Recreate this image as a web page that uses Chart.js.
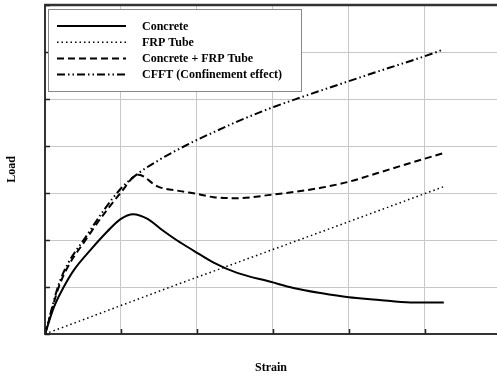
<!DOCTYPE html>
<html>
<head>
<meta charset="utf-8">
<script src="https://cdn.jsdelivr.net/npm/chart.js@4.4.1/dist/chart.umd.min.js"></script>
<style>
  html, body { margin: 0; padding: 0; background: #fff; }
</style>
</head>
<body>
<canvas id="chart" width="497" height="377"></canvas>
<script>
// ── Data (arbitrary units) ───────────────────────────────────
const strainTicks = [0, 1, 2, 3, 4, 5];
const loadTicks   = [0, 1, 2, 3, 4, 5, 6, 7];

const concreteX = [0, 0.12, 0.25, 0.38, 0.6, 0.82, 0.99, 1.16, 1.35, 1.52, 1.74, 1.96, 2.22, 2.53, 2.97, 3.27, 3.63, 4.0, 4.37, 4.81, 5.25];
const concreteY = [0, 0.58, 1.01, 1.36, 1.79, 2.18, 2.44, 2.55, 2.45, 2.24, 1.99, 1.77, 1.52, 1.3, 1.11, 0.98, 0.87, 0.78, 0.73, 0.67, 0.67];

const frpX = [0, 1.7, 3.63, 5.24];
const frpY = [0, 1.03, 2.17, 3.13];

const comboX = [0, 0.2, 0.56, 0.99, 1.23, 1.48, 1.78, 2.0, 2.22, 2.53, 2.97, 3.27, 3.63, 4.0, 4.37, 4.81, 5.25];
const comboY = [0, 1.08, 2.06, 2.99, 3.39, 3.14, 3.04, 2.98, 2.91, 2.89, 2.96, 3.02, 3.11, 3.24, 3.42, 3.64, 3.85];

const cfftX = [0, 0.2, 0.56, 0.99, 1.23, 1.52, 1.78, 2.0, 2.27, 2.53, 3.01, 3.36, 4.0, 4.41, 4.98, 5.24];
const cfftY = [0, 1.14, 2.12, 3.08, 3.42, 3.72, 3.95, 4.13, 4.33, 4.52, 4.83, 5.03, 5.38, 5.6, 5.9, 6.05];

const seriesLabels = ['Concrete', 'FRP Tube', 'Concrete + FRP Tube', 'CFFT (Confinement effect)'];

const toPoints = (xs, ys) => xs.map((x, i) => ({ x, y: ys[i] }));

const FONT = "'Liberation Serif', 'Times New Roman', serif";
Chart.defaults.font.family = FONT;
Chart.defaults.color = '#000';

// ── Frame: dark top border + inward tick marks ───────────────
const framePlugin = {
  id: 'frame',
  afterDraw(chart) {
    const { ctx, chartArea: a, scales } = chart;
    ctx.save();
    ctx.strokeStyle = '#333';
    ctx.lineWidth = 2.5;
    ctx.beginPath();
    ctx.moveTo(a.left - 1, a.top);
    ctx.lineTo(a.right, a.top);
    ctx.stroke();

    ctx.lineWidth = 1.5;
    ctx.strokeStyle = '#222';
    strainTicks.forEach((v) => {
      const px = Math.round(scales.x.getPixelForValue(v)) + 0.5;
      ctx.beginPath();
      ctx.moveTo(px, a.bottom);
      ctx.lineTo(px, a.bottom - 5);
      ctx.stroke();
    });
    loadTicks.forEach((v) => {
      const py = Math.round(scales.y.getPixelForValue(v)) + 0.5;
      ctx.beginPath();
      ctx.moveTo(a.left, py);
      ctx.lineTo(a.left + 5, py);
      ctx.stroke();
    });
    ctx.restore();
  },
};

// ── Legend drawn inside the plot, upper left ─────────────────
const legendBox = { left: 48, top: 9, right: 301, bottom: 91, rowTop: 26, rowGap: 16.2, lineFrom: 57, lineTo: 126, textX: 142 };

const insideLegend = {
  id: 'insideLegend',
  afterDraw(chart) {
    const { ctx } = chart;
    const b = legendBox;
    ctx.save();
    ctx.fillStyle = '#fff';
    ctx.fillRect(b.left, b.top, b.right - b.left, b.bottom - b.top);
    ctx.strokeStyle = '#888';
    ctx.lineWidth = 1;
    ctx.strokeRect(b.left + 0.5, b.top + 0.5, b.right - b.left, b.bottom - b.top);

    chart.data.datasets.forEach((ds, i) => {
      const y = b.rowTop + i * b.rowGap;
      ctx.strokeStyle = ds.borderColor;
      ctx.lineWidth = ds.borderWidth;
      ctx.setLineDash(ds.borderDash || []);
      ctx.beginPath();
      ctx.moveTo(b.lineFrom, y);
      ctx.lineTo(b.lineTo, y);
      ctx.stroke();
      ctx.setLineDash([]);
      ctx.fillStyle = '#000';
      ctx.font = `bold 12px ${FONT}`;
      ctx.textBaseline = 'middle';
      ctx.fillText(ds.label, b.textX, y + 0.5);
    });
    ctx.restore();
  },
};

new Chart(document.getElementById('chart'), {
  type: 'line',
  data: {
    datasets: [
      {
        label: seriesLabels[0],
        data: toPoints(concreteX, concreteY),
        borderColor: '#000',
        borderWidth: 2,
        cubicInterpolationMode: 'monotone',
      },
      {
        label: seriesLabels[1],
        data: toPoints(frpX, frpY),
        borderColor: '#000',
        borderWidth: 1.5,
        borderDash: [1.5, 3],
        tension: 0,
      },
      {
        label: seriesLabels[2],
        data: toPoints(comboX, comboY),
        borderColor: '#000',
        borderWidth: 2,
        borderDash: [7, 4],
        cubicInterpolationMode: 'monotone',
      },
      {
        label: seriesLabels[3],
        data: toPoints(cfftX, cfftY),
        borderColor: '#000',
        borderWidth: 2,
        borderDash: [8, 3, 1.5, 3, 1.5, 3],
        cubicInterpolationMode: 'monotone',
      },
    ],
  },
  options: {
    responsive: false,
    animation: false,
    layout: { padding: { top: 5, right: 0, bottom: 0, left: 0 } },
    elements: { point: { radius: 0 } },
    plugins: { legend: { display: false }, tooltip: { enabled: false } },
    scales: {
      x: {
        type: 'linear',
        min: 0,
        max: 5.95,
        afterBuildTicks: (axis) => { axis.ticks = strainTicks.map((v) => ({ value: v })); },
        afterFit: (axis) => { axis.height = 43; },
        ticks: { display: false },
        grid: { color: '#c8c8c8', lineWidth: 1, drawTicks: false },
        border: { color: '#333', width: 2 },
        title: {
          display: true,
          text: 'Strain',
          font: { size: 12, weight: 'bold' },
          padding: { top: 0, bottom: 2 },
        },
      },
      y: {
        min: 0,
        max: 7,
        afterBuildTicks: (axis) => { axis.ticks = loadTicks.map((v) => ({ value: v })); },
        afterFit: (axis) => { axis.width = 45; },
        ticks: { display: false },
        grid: { color: '#c8c8c8', lineWidth: 1, drawTicks: false },
        border: { color: '#333', width: 2 },
        title: {
          display: true,
          text: 'Load',
          font: { size: 12, weight: 'bold' },
          padding: { top: 5, bottom: 0 },
        },
      },
    },
  },
  plugins: [framePlugin, insideLegend],
});
</script>
</body>
</html>
